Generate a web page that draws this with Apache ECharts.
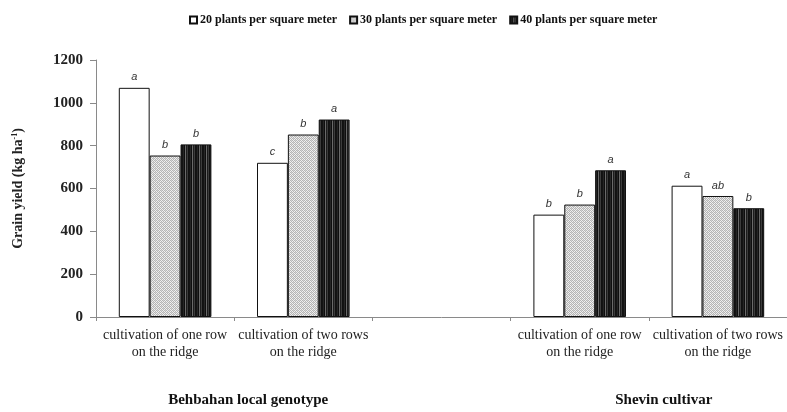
<!DOCTYPE html>
<html>
<head>
<meta charset="utf-8">
<script src="https://cdn.jsdelivr.net/npm/echarts@6/dist/echarts.min.js"></script>
<style>
  html, body { margin: 0; padding: 0; background: #fff; }
  #chart { width: 787px; height: 412px; }
</style>
</head>
<body>
<div id="chart"></div>
<script>
// Planting arrangements; the middle slot is left empty to separate the two cultivars
const categories = [
  'cultivation of one row\non the ridge',
  'cultivation of two rows\non the ridge',
  '',
  'cultivation of one row\non the ridge',
  'cultivation of two rows\non the ridge'
];
const seriesNames = [
  '20 plants per square meter',
  '30 plants per square meter',
  '40 plants per square meter'
];
// Grain yield (kg/ha)
const yield20 = [1070, 720, null, 478, 613];
const yield30 = [754, 852, null, 525, 565];
const yield40 = [806, 922, null, 685, 508];
// Mean comparison letters
const letters20 = ['a', 'c', '', 'b', 'a'];
const letters30 = ['b', 'b', '', 'b', 'ab'];
const letters40 = ['b', 'a', '', 'a', 'b'];
const groupNames = ['Behbahan local genotype', 'Shevin cultivar'];
const yTicks = { min: 0, max: 1200, interval: 200 };

// Fill patterns: fine stipple and dark vertical stripes
function stipple() {
  const c = document.createElement('canvas');
  c.width = 4; c.height = 4;
  const g = c.getContext('2d');
  g.fillStyle = '#f0f0f0'; g.fillRect(0, 0, 4, 4);
  g.fillStyle = '#b4b4b4';
  for (let y = 0; y < 4; y++) {
    for (let x = 0; x < 4; x++) {
      if ((x + y) % 2 === 0) g.fillRect(x, y, 1, 1);
    }
  }
  g.fillStyle = '#d4d4d4';
  g.fillRect(1, 2, 1, 1); g.fillRect(3, 0, 1, 1);
  return c;
}
function stripes() {
  const c = document.createElement('canvas');
  c.width = 7; c.height = 4;
  const g = c.getContext('2d');
  const cols = ['#141414', '#262626', '#0e0e0e', '#6a6a6a', '#1c1c1c', '#3c3c3c', '#111111'];
  cols.forEach((col, i) => { g.fillStyle = col; g.fillRect(i, 0, 1, 4); });
  return c;
}

const serif = '"Liberation Serif", "Times New Roman", serif';
const sans = '"Liberation Sans", Arial, sans-serif';

function barSeries(name, data, letters, fill) {
  return {
    name: name,
    type: 'bar',
    data: data,
    barGap: '0%',
    barCategoryGap: '33%',
    itemStyle: { color: fill, borderColor: '#111', borderWidth: 1 },
    label: {
      show: true,
      position: 'top',
      distance: 5,
      formatter: p => letters[p.dataIndex],
      fontFamily: sans,
      fontStyle: 'italic',
      fontSize: 11,
      color: '#333'
    }
  };
}

const chart = echarts.init(document.getElementById('chart'), null, { renderer: 'canvas' });
chart.setOption({
  animation: false,
  backgroundColor: '#fff',
  legend: {
    top: 9,
    left: 184,
    itemWidth: 7,
    itemHeight: 7,
    itemGap: 12,
    textStyle: { fontFamily: serif, fontWeight: 'bold', fontSize: 12, color: '#111', padding: [0, 0, 0, -2] },
    data: seriesNames.map(n => ({ name: n, icon: 'rect' }))
  },
  grid: { left: 96, right: 0, top: 60, bottom: 95, containLabel: false },
  xAxis: {
    type: 'category',
    data: categories,
    axisLine: { lineStyle: { color: '#8a8a8a', width: 1 } },
    axisTick: { show: true, length: 4, lineStyle: { color: '#8a8a8a' } },
    axisLabel: {
      interval: 0,
      margin: 10,
      fontFamily: serif,
      fontSize: 14,
      lineHeight: 17,
      color: '#222'
    }
  },
  yAxis: {
    type: 'value',
    min: yTicks.min,
    max: yTicks.max,
    interval: yTicks.interval,
    name: '{t|Grain yield (kg ha}{s|-1}{t|)}',
    nameLocation: 'middle',
    nameGap: 71,
    nameRotate: 90,
    nameTextStyle: {
      rich: {
        t: { fontFamily: serif, fontWeight: 'bold', fontSize: 14, color: '#222' },
        s: { fontFamily: serif, fontWeight: 'bold', fontSize: 8, color: '#222', verticalAlign: 'top', padding: [0, 0, 6, 0] }
      }
    },
    splitLine: { show: false },
    axisLine: { show: true, lineStyle: { color: '#8a8a8a', width: 1 } },
    axisTick: { show: true, length: 6, lineStyle: { color: '#8a8a8a' } },
    axisLabel: {
      margin: 13,
      formatter: v => String(v),
      fontFamily: serif,
      fontWeight: 'bold',
      fontSize: 15,
      color: '#222'
    }
  },
  series: [
    barSeries(seriesNames[0], yield20, letters20, '#ffffff'),
    barSeries(seriesNames[1], yield30, letters30, { image: stipple(), repeat: 'repeat' }),
    barSeries(seriesNames[2], yield40, letters40, { image: stripes(), repeat: 'repeat' })
  ]
});

// Cultivar captions under each pair of arrangements
const leftMid = (chart.convertToPixel({ xAxisIndex: 0 }, 0) + chart.convertToPixel({ xAxisIndex: 0 }, 1)) / 2;
const rightMid = (chart.convertToPixel({ xAxisIndex: 0 }, 3) + chart.convertToPixel({ xAxisIndex: 0 }, 4)) / 2;
chart.setOption({
  graphic: [leftMid + 14, rightMid + 15].map((x, i) => ({
    type: 'text',
    x: x,
    y: 400,
    style: {
      text: groupNames[i],
      fontFamily: serif,
      fontWeight: 'bold',
      fontSize: 15,
      fill: '#111',
      align: 'center',
      verticalAlign: 'middle'
    }
  }))
});
</script>
</body>
</html>
